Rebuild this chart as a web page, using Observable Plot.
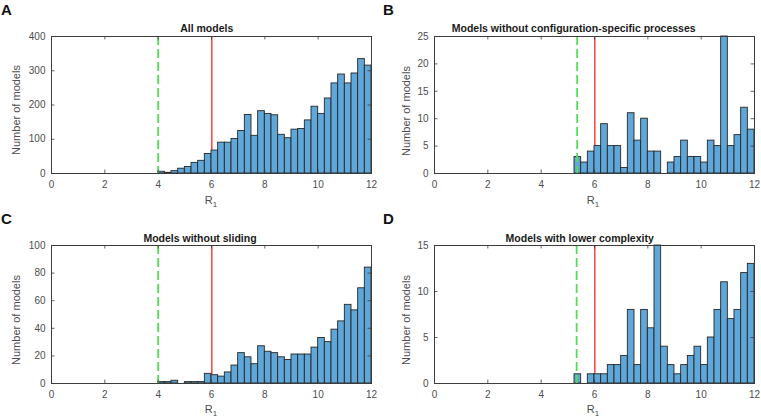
<!DOCTYPE html>
<html>
<head>
<meta charset="utf-8">
<script src="https://cdn.jsdelivr.net/npm/d3@7"></script>
<script src="https://cdn.jsdelivr.net/npm/@observablehq/plot@0.6"></script>
<style>
  html, body { margin: 0; padding: 0; background: #fff; }
  #root { position: relative; width: 761px; height: 418px; overflow: hidden; font-family: "Liberation Sans", Arial, sans-serif; }
  .panel { position: absolute; }
  .txt { position: absolute; white-space: nowrap; line-height: 1; transform: translate(-50%, -50%); }
  .title { font-weight: bold; font-size: 10.5px; color: #1a1a1a; }
  .ylab { font-size: 11px; color: #4d4d4d; transform: translate(-50%, -50%) rotate(-90deg); }
  .xlab { font-size: 11px; color: #4d4d4d; }
  .xlab sub { font-size: 8px; vertical-align: -3px; line-height: 0; }
  .letter { position: absolute; font-weight: bold; font-size: 15px; line-height: 1; color: #111; }
</style>
</head>
<body>
<div id="root"></div>
<script>
// ---- data ----
const panelLetters = ["A", "B", "C", "D"];
const panelTitles = [
  "All models",
  "Models without configuration-specific processes",
  "Models without sliding",
  "Models with lower complexity"
];
const binWidth = 0.25;
// first bin left edge for each panel
const binStartA = 4.0;
const binStartB = 5.25;
const binStartC = 4.0;
const binStartD = 5.25;
const countsA = [5, 2, 7, 14, 19, 31, 37, 57, 67, 90, 90, 101, 124, 171, 110, 182, 174, 170, 113, 103, 128, 130, 155, 195, 174, 219, 263, 289, 263, 292, 334, 315];
const countsB = [3, 2, 4, 5, 9, 5, 5, 1, 11, 6, 10, 4, 4, 0, 2, 3, 6, 3, 3, 2, 6, 5, 25, 5, 7, 12, 8];
const countsC = [1, 1, 2, 0, 1, 1, 1, 7, 6, 5, 8, 13, 22, 19, 14, 27, 23, 22, 19, 17, 21, 21, 21, 26, 33, 30, 39, 45, 57, 53, 69, 84];
const countsD = [1, 0, 1, 1, 1, 2, 2, 3, 8, 2, 8, 6, 15, 4, 2, 1, 2, 3, 4, 2, 5, 8, 11, 7, 8, 12, 13];
const greenLines = [4.0, 5.35, 4.0, 5.33];
const redLine = 6;
const xTicks = [0, 2, 4, 6, 8, 10, 12];
const yTicksA = [0, 100, 200, 300, 400];
const yTicksB = [0, 5, 10, 15, 20, 25];
const yTicksC = [0, 20, 40, 60, 80, 100];
const yTicksD = [0, 5, 10, 15];

// ---- layout ----
const panels = [
  {counts: countsA, start: binStartA, yTicks: yTicksA, left: 0,   top: 0,   width: 380, height: 209, ml: 51, mr: 9, mt: 36, mb: 36,
   title: [206.7, 27.7], ylab: [16, 110], xlab: [211, 200], letter: [1, 2]},
  {counts: countsB, start: binStartB, yTicks: yTicksB, left: 380, top: 0,   width: 381, height: 209, ml: 54, mr: 7, mt: 36, mb: 36,
   title: [573.7, 27.7], ylab: [406, 111], xlab: [593, 200], letter: [383, 2]},
  {counts: countsC, start: binStartC, yTicks: yTicksC, left: 0,   top: 209, width: 380, height: 209, ml: 51, mr: 9, mt: 36, mb: 35,
   title: [200, 238], ylab: [16, 320], xlab: [211, 409], letter: [1, 211]},
  {counts: countsD, start: binStartD, yTicks: yTicksD, left: 380, top: 209, width: 381, height: 209, ml: 54, mr: 7, mt: 36, mb: 35,
   title: [579.7, 238], ylab: [406, 320], xlab: [593, 409], letter: [383, 211]}
];

const root = document.getElementById("root");
const axisColor = "#3c3c3c";
const tickLen = 3.5;

panels.forEach((p, i) => {
  const bars = p.counts.map((c, k) => ({
    x1: p.start + k * binWidth,
    x2: p.start + (k + 1) * binWidth,
    count: c
  })).filter(d => d.count > 0);
  const ph = p.height - p.mt - p.mb;
  const pw = p.width - p.ml - p.mr;
  const ymax = p.yTicks[p.yTicks.length - 1];
  const chart = Plot.plot({
    width: p.width,
    height: p.height,
    marginLeft: p.ml,
    marginRight: p.mr,
    marginTop: p.mt,
    marginBottom: p.mb,
    x: {domain: [0, 12]},
    y: {domain: [0, ymax]},
    style: {fontFamily: "Liberation Sans, Arial, sans-serif", fontSize: "10px", color: "#4d4d4d", background: "transparent", overflow: "visible"},
    marks: [
      Plot.ruleX([redLine], {stroke: "#ff4a4a", strokeWidth: 1.6, dx: 0.3}),
      Plot.rectY(bars, {x1: "x1", x2: "x2", y: "count", fill: "#5fa7d8", stroke: "#262626", strokeWidth: 0.9, inset: 0}),
      Plot.ruleX([greenLines[i]], {stroke: "#55dd55", strokeWidth: 1.8, strokeDasharray: "9,4"}),
      Plot.tickX(xTicks, {x: d => d, insetTop: ph - tickLen, stroke: axisColor, strokeWidth: 0.8}),
      Plot.tickX(xTicks, {x: d => d, insetBottom: ph - tickLen, stroke: axisColor, strokeWidth: 0.8}),
      Plot.tickY(p.yTicks, {y: d => d, insetRight: pw - tickLen, stroke: axisColor, strokeWidth: 0.8}),
      Plot.tickY(p.yTicks, {y: d => d, insetLeft: pw - tickLen, stroke: axisColor, strokeWidth: 0.8}),
      Plot.frame({stroke: axisColor, strokeWidth: 1}),
      Plot.axisX({ticks: xTicks, tickSize: 0, tickPadding: 7, label: null, fill: "#4d4d4d"}),
      Plot.axisY({ticks: p.yTicks, tickSize: 0, tickPadding: 6, label: null, fill: "#4d4d4d"})
    ]
  });
  chart.classList.add("panel");
  chart.style.left = p.left + "px";
  chart.style.top = p.top + "px";
  root.appendChild(chart);

  const t = document.createElement("div");
  t.className = "txt title";
  t.textContent = panelTitles[i];
  t.style.left = p.title[0] + "px";
  t.style.top = p.title[1] + "px";
  root.appendChild(t);

  const yl = document.createElement("div");
  yl.className = "txt ylab";
  yl.textContent = "Number of models";
  yl.style.left = p.ylab[0] + "px";
  yl.style.top = p.ylab[1] + "px";
  root.appendChild(yl);

  const xl = document.createElement("div");
  xl.className = "txt xlab";
  xl.innerHTML = "R<sub>1</sub>";
  xl.style.left = p.xlab[0] + "px";
  xl.style.top = p.xlab[1] + "px";
  root.appendChild(xl);

  const L = document.createElement("div");
  L.className = "letter";
  L.textContent = panelLetters[i];
  L.style.left = p.letter[0] + "px";
  L.style.top = p.letter[1] + "px";
  root.appendChild(L);
});
</script>
</body>
</html>
